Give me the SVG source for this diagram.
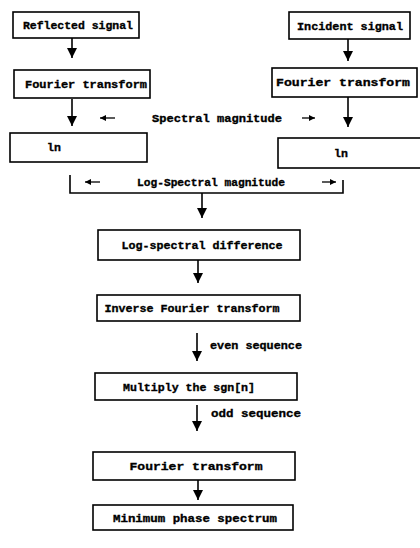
<svg xmlns="http://www.w3.org/2000/svg" width="420" height="548" viewBox="0 0 420 548">
<style>
.box{fill:#fff;stroke:#000;stroke-width:1.6}
.t{font-family:"Liberation Mono","DejaVu Sans Mono",monospace;font-weight:bold;font-size:11.5px;fill:#000;stroke:#000;stroke-width:0.35;text-anchor:middle;dominant-baseline:central}
.c{fill:none;stroke:#000;stroke-width:1.6}
.s{fill:none;stroke:#000;stroke-width:1.3}
</style>
<defs>
<marker id="ah" markerUnits="userSpaceOnUse" markerWidth="12" markerHeight="12" refX="10" refY="5" orient="auto">
<path d="M0,0 L10,5 L0,10 Z" fill="#000"/>
</marker>
<marker id="sh" markerUnits="userSpaceOnUse" markerWidth="8" markerHeight="8" refX="6" refY="3" orient="auto">
<path d="M0,0 L6,3 L0,6 Z" fill="#000"/>
</marker>
</defs>
<rect width="420" height="548" fill="#fff"/>
<g id="connectors">
<line class="c" x1="72" y1="38" x2="72" y2="58" marker-end="url(#ah)"/>
<line class="c" x1="348" y1="39" x2="348" y2="61" marker-end="url(#ah)"/>
<line class="c" x1="72" y1="99" x2="72" y2="126" marker-end="url(#ah)"/>
<line class="c" x1="348" y1="97" x2="348" y2="127" marker-end="url(#ah)"/>
<line class="s" x1="115" y1="118" x2="100" y2="118" marker-end="url(#sh)"/>
<line class="s" x1="302" y1="118" x2="315" y2="118" marker-end="url(#sh)"/>
<text class="t" x="217" y="118" textLength="130" lengthAdjust="spacingAndGlyphs">Spectral magnitude</text>
<path class="c" d="M70,175 V193 H343 V180"/>
<line class="s" x1="100" y1="182" x2="85" y2="182" marker-end="url(#sh)"/>
<line class="s" x1="322" y1="182" x2="336" y2="182" marker-end="url(#sh)"/>
<text class="t" x="211" y="182" textLength="148" lengthAdjust="spacingAndGlyphs">Log-Spectral magnitude</text>
<line class="c" x1="202" y1="193" x2="202" y2="218" marker-end="url(#ah)"/>
<line class="c" x1="198" y1="260" x2="198" y2="283" marker-end="url(#ah)"/>
<line class="c" x1="197" y1="333" x2="197" y2="361" marker-end="url(#ah)"/>
<text class="t" x="256" y="345" textLength="92" lengthAdjust="spacingAndGlyphs">even sequence</text>
<line class="c" x1="197" y1="405" x2="197" y2="431" marker-end="url(#ah)"/>
<text class="t" x="256" y="413" textLength="90" lengthAdjust="spacingAndGlyphs">odd sequence</text>
<line class="c" x1="198" y1="480" x2="198" y2="500" marker-end="url(#ah)"/>
</g>
<g id="reflected">
<rect class="box" x="13" y="12" width="126" height="26"/>
<text class="t" x="78" y="25" textLength="110" lengthAdjust="spacingAndGlyphs">Reflected signal</text>
</g>
<g id="incident">
<rect class="box" x="289" y="12" width="121" height="27"/>
<text class="t" x="350" y="26" textLength="106" lengthAdjust="spacingAndGlyphs">Incident signal</text>
</g>
<g id="ft-left">
<rect class="box" x="14" y="70" width="136" height="28"/>
<text class="t" x="86" y="84" textLength="122" lengthAdjust="spacingAndGlyphs">Fourier transform</text>
</g>
<g id="ft-right">
<rect class="box" x="272" y="68" width="145" height="29"/>
<text class="t" x="343" y="82" textLength="134" lengthAdjust="spacingAndGlyphs">Fourier transform</text>
</g>
<g id="ln-left">
<rect class="box" x="10" y="133" width="137" height="29"/>
<text class="t" x="54" y="147">ln</text>
</g>
<g id="ln-right">
<rect class="box" x="278" y="138" width="146" height="30"/>
<text class="t" x="341" y="153">ln</text>
</g>
<g id="lsd">
<rect class="box" x="98" y="230" width="202" height="30"/>
<text class="t" x="202" y="245" textLength="161" lengthAdjust="spacingAndGlyphs">Log-spectral difference</text>
</g>
<g id="ift">
<rect class="box" x="97" y="295" width="203" height="26"/>
<text class="t" x="192" y="308" textLength="175" lengthAdjust="spacingAndGlyphs">Inverse Fourier transform</text>
</g>
<g id="multiply">
<rect class="box" x="95" y="373" width="202" height="27"/>
<text class="t" x="189" y="387" textLength="132" lengthAdjust="spacingAndGlyphs">Multiply the sgn[n]</text>
</g>
<g id="ft-bottom">
<rect class="box" x="93" y="452" width="202" height="28"/>
<text class="t" x="196" y="466" textLength="133" lengthAdjust="spacingAndGlyphs">Fourier transform</text>
</g>
<g id="minphase">
<rect class="box" x="93" y="505" width="200" height="25"/>
<text class="t" x="195" y="518" textLength="164" lengthAdjust="spacingAndGlyphs">Minimum phase spectrum</text>
</g>
</svg>
